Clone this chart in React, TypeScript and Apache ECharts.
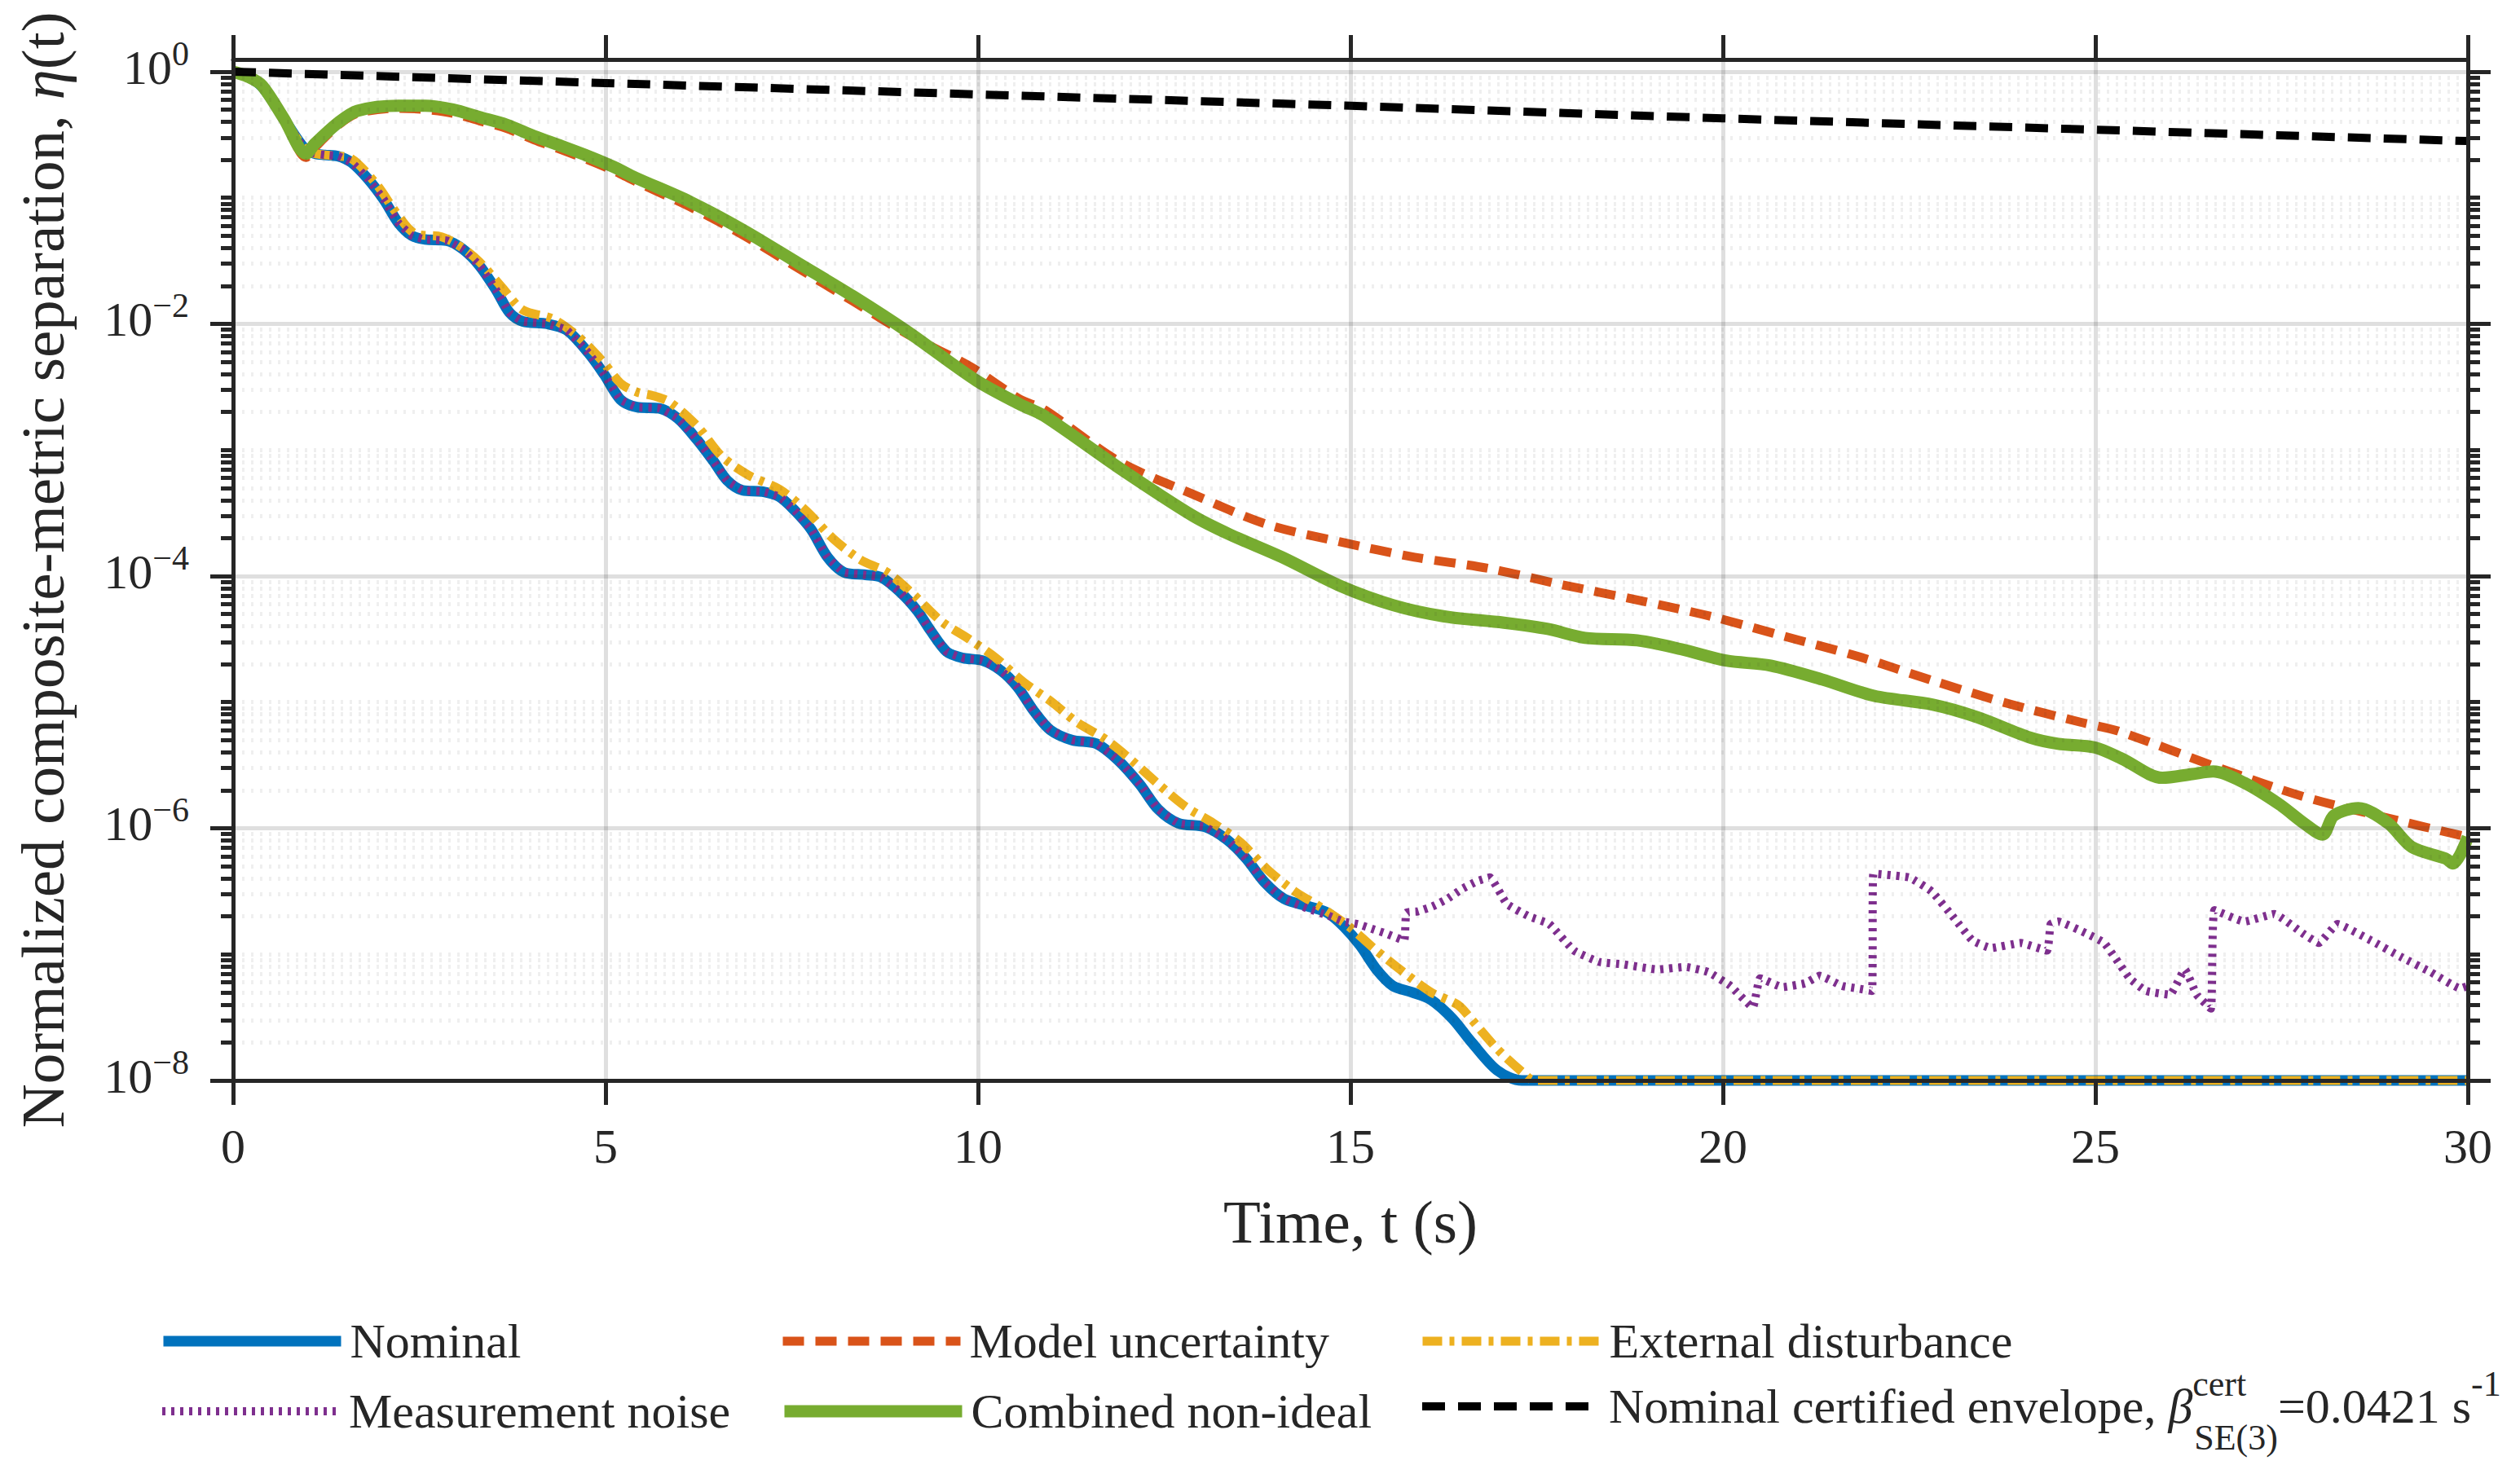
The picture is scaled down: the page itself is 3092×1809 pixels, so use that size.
import React, { useEffect, useRef } from 'react';
import * as echarts from 'echarts';

// ---------------- data (time in s, values as log10 of eta) ----------------
const xTicks = [0, 5, 10, 15, 20, 25, 30];
const yMajorExp = [-8, -6, -4, -2, 0];
const yMaxValue = 1.25;
const yMinValue = 1e-8;

const nominalT = [0, 0.2, 0.39, 0.68, 0.96, 1.1, 1.23, 1.41, 1.59, 1.81, 2.03, 2.22, 2.4, 2.58, 2.87, 3.09, 3.31, 3.53, 3.71, 3.89, 4.22, 4.48, 4.77, 4.98, 5.2, 5.42, 5.72, 5.97, 6.23, 6.45, 6.63, 6.84, 7.11, 7.33, 7.54, 7.76, 7.98, 8.2, 8.49, 8.7, 8.96, 9.19, 9.36, 9.58, 9.8, 10.06, 10.31, 10.53, 10.75, 10.97, 11.26, 11.59, 11.88, 12.17, 12.42, 12.69, 13.05, 13.34, 13.6, 13.85, 14.11, 14.44, 14.69, 14.91, 15.13, 15.35, 15.57, 15.82, 16.08, 16.37, 16.63, 16.97, 17.3, 30];
const nominalLog10 = [0, -0.04, -0.12, -0.37, -0.61, -0.65, -0.66, -0.67, -0.72, -0.85, -1.02, -1.2, -1.3, -1.33, -1.34, -1.41, -1.54, -1.73, -1.91, -1.98, -2.0, -2.05, -2.23, -2.4, -2.6, -2.66, -2.67, -2.75, -2.92, -3.09, -3.24, -3.32, -3.33, -3.37, -3.48, -3.63, -3.85, -3.97, -3.99, -4.01, -4.13, -4.28, -4.43, -4.6, -4.65, -4.67, -4.75, -4.88, -5.07, -5.22, -5.3, -5.33, -5.46, -5.65, -5.85, -5.96, -5.99, -6.09, -6.24, -6.43, -6.56, -6.62, -6.67, -6.78, -6.93, -7.12, -7.25, -7.3, -7.36, -7.51, -7.7, -7.92, -8, -8];

const modelT = [0, 0.2, 0.39, 0.68, 0.98, 1.1, 1.42, 1.67, 2.22, 2.58, 2.95, 3.31, 3.67, 4.04, 4.41, 4.77, 5.13, 5.4, 6.13, 6.86, 7.59, 8.32, 9.05, 9.9, 10.57, 10.89, 11.89, 12.88, 13.88, 14.87, 15.86, 16.86, 17.85, 18.85, 19.84, 20.84, 21.83, 22.82, 23.82, 24.81, 25.31, 26.7, 27.8, 28.93, 30];
const modelLog10 = [0, -0.04, -0.12, -0.38, -0.68, -0.6, -0.42, -0.33, -0.29, -0.3, -0.33, -0.39, -0.45, -0.54, -0.62, -0.7, -0.79, -0.87, -1.07, -1.3, -1.56, -1.82, -2.08, -2.34, -2.6, -2.68, -3.09, -3.35, -3.59, -3.73, -3.85, -3.94, -4.07, -4.19, -4.32, -4.48, -4.64, -4.83, -5.01, -5.16, -5.23, -5.53, -5.75, -5.92, -6.07];

const disturbT = [0, 0.2, 0.39, 0.68, 0.96, 1.1, 1.23, 1.41, 1.56, 1.92, 2.18, 2.43, 2.8, 3.06, 3.31, 3.61, 3.89, 4.29, 4.63, 4.95, 5.2, 5.42, 5.64, 5.86, 6.23, 6.56, 6.92, 7.33, 7.69, 8.05, 8.42, 8.78, 9.14, 9.51, 9.88, 10.24, 10.61, 10.97, 11.33, 11.7, 12.06, 12.42, 12.79, 13.16, 13.52, 13.89, 14.25, 14.61, 14.98, 15.35, 15.71, 16.08, 16.44, 16.63, 16.97, 17.3, 17.47, 30];
const disturbLog10 = [0, -0.04, -0.12, -0.37, -0.61, -0.65, -0.66, -0.67, -0.68, -0.89, -1.11, -1.28, -1.31, -1.39, -1.51, -1.71, -1.89, -1.96, -2.1, -2.29, -2.47, -2.54, -2.57, -2.62, -2.81, -3.05, -3.2, -3.31, -3.48, -3.7, -3.87, -3.97, -4.15, -4.36, -4.5, -4.65, -4.84, -4.99, -5.16, -5.29, -5.46, -5.65, -5.83, -5.96, -6.11, -6.33, -6.5, -6.63, -6.78, -6.97, -7.14, -7.3, -7.4, -7.52, -7.75, -7.93, -8, -8];

// measurement noise: follows the nominal curve up to t = 14.11 s, then this noisy tail
const noiseTailT = [14.44, 14.69, 14.9, 15.1, 15.3, 15.5, 15.72, 15.75, 15.9, 16.1, 16.3, 16.5, 16.7, 16.87, 17.1, 17.4, 17.67, 18.0, 18.34, 18.67, 19.12, 19.5, 19.8, 20.1, 20.4, 20.5, 20.8, 21.1, 21.3, 21.6, 21.8, 22.0, 22.02, 22.5, 22.8, 23.1, 23.35, 23.6, 24.0, 24.35, 24.4, 24.5, 24.9, 25.12, 25.46, 25.68, 26.0, 26.2, 26.36, 26.55, 26.6, 27.0, 27.4, 27.8, 28.0, 28.25, 28.7, 29.1, 29.5, 29.9, 30];
const noiseTailLog10 = [-6.64, -6.69, -6.74, -6.76, -6.8, -6.84, -6.89, -6.67, -6.66, -6.62, -6.56, -6.48, -6.42, -6.39, -6.6, -6.7, -6.76, -6.97, -7.06, -7.08, -7.12, -7.1, -7.14, -7.25, -7.42, -7.19, -7.26, -7.23, -7.17, -7.25, -7.27, -7.29, -6.36, -6.39, -6.5, -6.71, -6.89, -6.95, -6.91, -6.97, -6.76, -6.74, -6.84, -6.91, -7.19, -7.29, -7.32, -7.12, -7.32, -7.43, -6.65, -6.74, -6.68, -6.84, -6.91, -6.76, -6.89, -7.02, -7.14, -7.27, -7.25];

const combinedT = [0, 0.2, 0.39, 0.68, 0.98, 1.1, 1.42, 1.67, 2.22, 2.58, 2.95, 3.31, 3.67, 4.04, 4.41, 4.77, 5.13, 5.4, 6.13, 6.86, 7.59, 8.32, 9.05, 9.98, 10.57, 10.89, 11.89, 12.88, 13.38, 14.08, 14.87, 15.57, 16.26, 17.06, 17.65, 18.15, 18.85, 19.44, 20.04, 20.64, 21.33, 22.03, 22.82, 23.42, 24.12, 24.5, 25.0, 25.36, 25.9, 26.3, 26.58, 27.0, 27.47, 27.8, 28.05, 28.2, 28.53, 28.93, 29.25, 29.7, 29.8, 30];
const combinedLog10 = [0, -0.04, -0.11, -0.37, -0.65, -0.57, -0.4, -0.31, -0.27, -0.27, -0.3, -0.36, -0.42, -0.51, -0.59, -0.67, -0.76, -0.84, -1.03, -1.26, -1.52, -1.78, -2.06, -2.45, -2.64, -2.73, -3.14, -3.52, -3.67, -3.85, -4.08, -4.23, -4.32, -4.37, -4.42, -4.49, -4.51, -4.58, -4.67, -4.71, -4.82, -4.95, -5.02, -5.12, -5.28, -5.33, -5.36, -5.45, -5.6, -5.57, -5.55, -5.64, -5.81, -5.96, -6.05, -5.9, -5.84, -5.96, -6.15, -6.24, -6.28, -6.07];

const envelopeT = [0, 5, 10, 15, 20, 25, 30];
const envelopeLog10 = [0, -0.09, -0.18, -0.27, -0.37, -0.46, -0.55];

const seriesNames = [
  'Nominal',
  'Model uncertainty',
  'External disturbance',
  'Measurement noise',
  'Combined non-ideal',
  'Nominal certified envelope',
];
const seriesColors = ['#0072BD', '#D95319', '#EDB120', '#7E2F8E', '#77AC30', '#000000'];
const seriesWidths = [13, 11, 11, 10, 15, 10];

// ---------------- styling ----------------
const FONT = '"Liberation Serif", "DejaVu Serif", "Times New Roman", serif';
const INK = '#262626';
const W = 3092;
const H = 1809;
const GRID = { left: 286, top: 73, width: 2742, height: 1253 };

function zip(t: number[], v: number[]) {
  return t.map((x, i) => [x, v[i]]);
}

export default function App() {
  const ref = useRef<HTMLDivElement>(null);

  useEffect(() => {
    document.body.style.margin = '0';
    document.body.style.overflow = 'hidden';
    if (!ref.current) return;
    const chart = echarts.init(ref.current, undefined, { renderer: 'svg', width: W, height: H });

    const yMin = Math.log10(yMinValue);
    const yMax = Math.log10(yMaxValue);
    const minorLogs: number[] = [];
    for (let k = -8; k <= 0; k++) {
      for (let m = 1; m <= 9; m++) {
        if (m === 1 && k % 2 === 0) continue;
        const v = k + Math.log10(m);
        if (v <= yMax) minorLogs.push(v);
      }
    }

    const nShared = nominalT.filter((t) => t <= 14.11).length;
    const noiseT = nominalT.slice(0, nShared).concat(noiseTailT);
    const noiseLog10 = nominalLog10.slice(0, nShared).concat(noiseTailLog10);

    const dataSets = [
      zip(nominalT, nominalLog10),
      zip(modelT, modelLog10),
      zip(disturbT, disturbLog10),
      zip(noiseT, noiseLog10),
      zip(combinedT, combinedLog10),
      zip(envelopeT, envelopeLog10),
    ];
    const dashTypes: any[] = ['solid', [26, 14], [24, 9, 6, 9], [4, 7], 'solid', [28, 16]];
    const smooths: any[] = [0.3, 0.3, 0.3, 0.12, 0.3, false];

    const series = dataSets.map((d, i) => ({
      name: seriesNames[i],
      type: 'line',
      data: d,
      symbol: 'none',
      showSymbol: false,
      smooth: smooths[i],
      clip: false,
      silent: true,
      z: 2,
      lineStyle: { color: seriesColors[i], width: seriesWidths[i], type: dashTypes[i], cap: 'butt', join: 'round' },
      itemStyle: { color: seriesColors[i] },
      emphasis: { disabled: true },
    }));

    const legendPos = [
      { left: 194, top: 1616 },
      { left: 955, top: 1616 },
      { left: 1740, top: 1616 },
      { left: 194, top: 1702 },
      { left: 955, top: 1702 },
      { left: 1740, top: 1666 },
    ];
    const legends = seriesNames.map((n, i) => ({
      data: [n],
      left: legendPos[i].left,
      top: legendPos[i].top,
      orient: 'horizontal',
      padding: 0,
      itemWidth: 218,
      itemHeight: 30,
      selectedMode: false,
      lineStyle: { width: seriesWidths[i] },
      itemStyle: { opacity: 0, borderWidth: 0 },
      formatter:
        i === 5
          ? () => 'Nominal certified envelope, {it|β}{sup|cert}{sub|SE(3)}=0.0421 s{sup2|-1}'
          : undefined,
      textStyle: {
        fontFamily: FONT,
        fontSize: 60,
        lineHeight: 60,
        color: INK,
        padding: [0, 0, 0, 6],
        rich: {
          it: { fontFamily: FONT, fontSize: 60, fontStyle: 'italic', color: INK, lineHeight: 60 },
          sup: { fontFamily: FONT, fontSize: 44, lineHeight: 44, color: INK, width: 2, padding: [0, 0, 56, 0] },
          sub: { fontFamily: FONT, fontSize: 44, lineHeight: 44, color: INK, padding: [76, 0, 0, 0] },
          sup2: { fontFamily: FONT, fontSize: 44, lineHeight: 44, color: INK, padding: [0, 0, 56, 0] },
        },
      },
    }));

    const axisLine = { show: true, onZero: false, lineStyle: { color: INK, width: 5 } };
    const majorTick = (values?: number[]) => ({
      show: true,
      inside: false,
      length: 28,
      lineStyle: { color: INK, width: 5 },
      ...(values ? { customValues: values } : {}),
    });

    const option: any = {
      animation: false,
      backgroundColor: '#ffffff',
      grid: { ...GRID, containLabel: false },
      legend: legends,
      xAxis: [
        {
          type: 'value',
          position: 'bottom',
          min: 0,
          max: 30,
          interval: 5,
          z: 3,
          axisLine,
          axisTick: { show: true, inside: false, length: 30, lineStyle: { color: INK, width: 5 } },
          axisLabel: {
            show: true,
            margin: 51,
            fontFamily: FONT,
            fontSize: 60,
            lineHeight: 60,
            color: INK,
            customValues: xTicks,
          },
          splitLine: { show: true, lineStyle: { color: 'rgba(38,38,38,0.15)', width: 5 } },
          name: 'Time, t (s)',
          nameLocation: 'middle',
          nameGap: 136,
          nameTextStyle: { fontFamily: FONT, fontSize: 75, lineHeight: 75, color: INK },
        },
        {
          type: 'value',
          position: 'top',
          min: 0,
          max: 30,
          interval: 5,
          z: 3,
          axisLine,
          axisTick: { show: true, inside: false, length: 30, lineStyle: { color: INK, width: 5 } },
          axisLabel: { show: false },
          splitLine: { show: false },
        },
      ],
      yAxis: [
        {
          type: 'value',
          position: 'left',
          min: yMin,
          max: yMax,
          z: 3,
          axisLine,
          axisTick: majorTick(yMajorExp),
          axisLabel: {
            show: true,
            margin: 54,
            customValues: yMajorExp,
            fontFamily: FONT,
            color: INK,
            formatter: (v: number) => {
              const e = Math.round(v);
              return '{b|10}{e|' + (e === 0 ? '0' : '\u2212' + Math.abs(e)) + '}';
            },
            rich: {
              b: { fontFamily: FONT, fontSize: 60, lineHeight: 60, color: INK, padding: [0, 0, 10, 0] },
              e: { fontFamily: FONT, fontSize: 42, lineHeight: 42, color: INK, padding: [0, 0, 44, 0] },
            },
          },
          splitLine: { show: true, lineStyle: { color: 'rgba(38,38,38,0.15)', width: 5 } },
          name: 'Normalized composite-metric separation, {i|η}(t)',
          nameLocation: 'middle',
          nameRotate: 90,
          nameGap: 196,
          nameTextStyle: {
            fontFamily: FONT,
            fontSize: 75,
            lineHeight: 75,
            color: INK,
            rich: { i: { fontFamily: FONT, fontSize: 75, lineHeight: 75, fontStyle: 'italic', color: INK } },
          },
        },
        {
          type: 'value',
          position: 'left',
          min: yMin,
          max: yMax,
          z: 3,
          axisLine: { show: false, onZero: false },
          axisTick: { show: true, inside: false, length: 15, lineStyle: { color: INK, width: 5 }, customValues: minorLogs },
          axisLabel: { show: false },
          splitLine: { show: true, lineStyle: { color: 'rgba(38,38,38,0.075)', width: 5, type: [3, 8] } },
        },
        {
          type: 'value',
          position: 'right',
          min: yMin,
          max: yMax,
          z: 3,
          axisLine,
          axisTick: majorTick(yMajorExp),
          axisLabel: { show: false },
          splitLine: { show: false },
        },
        {
          type: 'value',
          position: 'right',
          min: yMin,
          max: yMax,
          z: 3,
          axisLine: { show: false, onZero: false },
          axisTick: { show: true, inside: false, length: 15, lineStyle: { color: INK, width: 5 }, customValues: minorLogs },
          axisLabel: { show: false },
          splitLine: { show: false },
        },
      ],
      series,
    };

    chart.setOption(option);
    return () => chart.dispose();
  }, []);

  return <div ref={ref} style={{ width: W + 'px', height: H + 'px' }} />;
}
